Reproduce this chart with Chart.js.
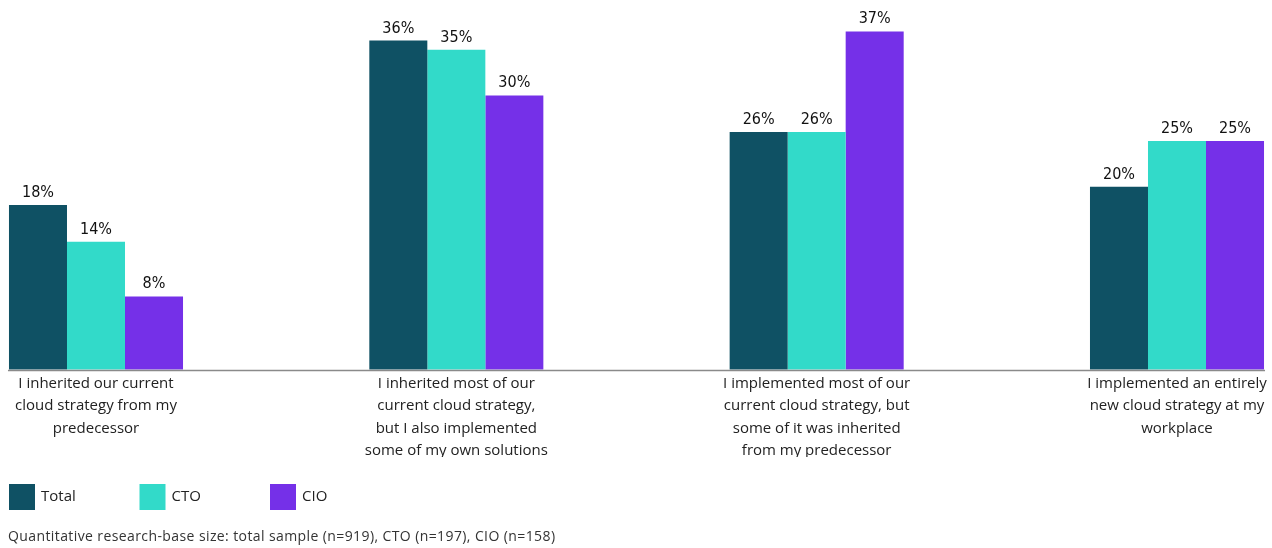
<!DOCTYPE html>
<html>
<head>
<meta charset="utf-8">
<script src="https://cdn.jsdelivr.net/npm/chart.js@4"></script>
<style>
  html, body { margin: 0; padding: 0; background: #fff; }
  #wrap { width: 1272px; height: 548px; }
</style>
</head>
<body>
<div id="wrap"><canvas id="chart"></canvas></div>
<script>
const categories = [
  ['I inherited our current', 'cloud strategy from my', 'predecessor'],
  ['I inherited most of our', 'current cloud strategy,', 'but I also implemented', 'some of my own solutions'],
  ['I implemented most of our', 'current cloud strategy, but', 'some of it was inherited', 'from my predecessor'],
  ['I implemented an entirely', 'new cloud strategy at my', 'workplace'],
];
const seriesNames = ['Total', 'CTO', 'CIO'];
const totalValues = [18, 36, 26, 20];
const ctoValues = [14, 35, 26, 25];
const cioValues = [8, 30, 37, 25];
const seriesColors = ['#0f5164', '#32dac9', '#7530e8'];
const footnote = 'Quantitative research-base size: total sample (n=919), CTO (n=197), CIO (n=158)';

// value labels, baseline, legend and footnote
const decorations = {
  id: 'decorations',
  afterDatasetsDraw(chart) {
    const { ctx } = chart;
    ctx.save();

    ctx.font = '16px "DejaVu Sans Condensed", "Liberation Sans Narrow", sans-serif';
    ctx.fillStyle = '#111';
    ctx.textAlign = 'center';
    ctx.textBaseline = 'alphabetic';
    chart.data.datasets.forEach((ds, i) => {
      chart.getDatasetMeta(i).data.forEach((bar, j) => {
        ctx.fillText(`${ds.data[j]}%`, bar.x, bar.y - 8);
      });
    });

    const first = chart.getDatasetMeta(0).data[0];
    const last = chart.getDatasetMeta(chart.data.datasets.length - 1).data.at(-1);
    const y0 = chart.scales.y.getPixelForValue(0);
    ctx.strokeStyle = '#8a8a8a';
    ctx.lineWidth = 1.5;
    ctx.beginPath();
    ctx.moveTo(first.x - first.width / 2 - 1, y0 + 1);
    ctx.lineTo(last.x + last.width / 2 + 1, y0 + 1);
    ctx.stroke();

    ctx.font = '15px "Open Sans", sans-serif';
    ctx.textAlign = 'left';
    ctx.textBaseline = 'middle';
    chart.data.datasets.forEach((ds, i) => {
      const x = 9 + i * 130.5;
      ctx.fillStyle = ds.backgroundColor;
      ctx.fillRect(x, 484, 26, 26);
      ctx.fillStyle = '#222';
      ctx.fillText(ds.label, x + 32, 497);
    });

    ctx.font = '14px "Open Sans", sans-serif';
    ctx.letterSpacing = '0.4px';
    ctx.fillStyle = '#333';
    ctx.fillText(footnote, 8, 537);
    ctx.restore();
  },
};

const makeSet = (label, data, color) => ({
  label,
  data,
  backgroundColor: color,
  borderWidth: 0,
  categoryPercentage: 0.483,
  barPercentage: 1,
  clip: false,
});

new Chart(document.getElementById('chart'), {
  type: 'bar',
  data: {
    labels: categories,
    datasets: [
      makeSet(seriesNames[0], totalValues, seriesColors[0]),
      makeSet(seriesNames[1], ctoValues, seriesColors[1]),
      makeSet(seriesNames[2], cioValues, seriesColors[2]),
    ],
  },
  options: {
    responsive: true,
    maintainAspectRatio: false,
    animation: false,
    layout: { padding: { left: 96, right: 95, top: 4, bottom: 91 } },
    plugins: {
      legend: { display: false },
      tooltip: { enabled: false },
    },
    scales: {
      x: {
        offset: false,
        grid: { display: false },
        border: { display: false },
        ticks: {
          autoSkip: false,
          maxRotation: 0,
          padding: -5,
          color: '#222',
          font: { family: '"Open Sans", sans-serif', size: 15, lineHeight: 1.49 },
        },
      },
      y: {
        display: false,
        min: 0,
        max: 40,
      },
    },
  },
  plugins: [decorations],
});
</script>
</body>
</html>
